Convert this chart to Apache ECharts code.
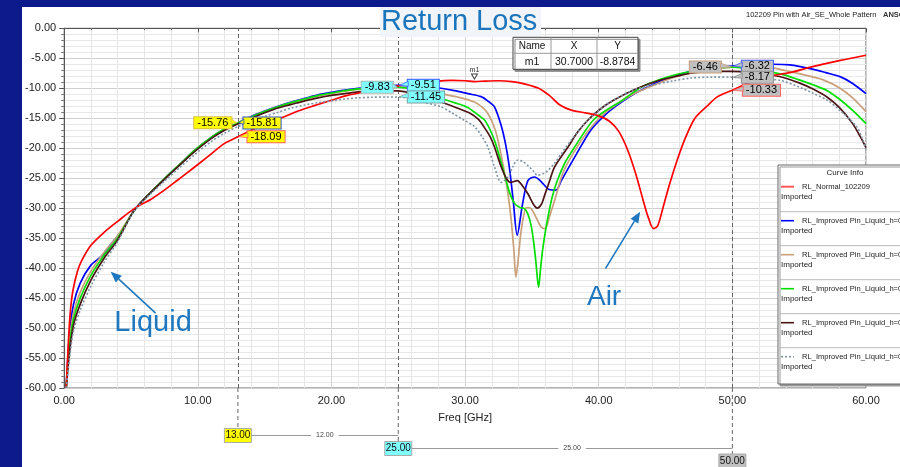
<!DOCTYPE html>
<html>
<head>
<meta charset="utf-8">
<script src="https://cdn.jsdelivr.net/npm/echarts@6/dist/echarts.min.js"></script>
<style>
html,body{margin:0;padding:0;background:#0d1a8c;width:900px;height:467px;overflow:hidden}
#main{position:absolute;left:22px;top:7px;width:878px;height:460px;background:#fff}
</style>
</head>
<body>
<div id="main"></div>
<script>
// curve data, [freq GHz, dB]
var rlNormal = [[0.15,-60],[0.3,-53],[0.45,-47.5],[0.65,-43.8],[1,-40.5],[1.3,-38.8],[2,-36.2],[3,-34],[4,-32.2],[5.3,-30],[6.5,-28.5],[7.5,-27],[8.5,-25.3],[9.5,-23.6],[10.7,-21.5],[12,-19.2],[13,-18.09],[14,-17],[15,-16],[16.2,-15],[17.5,-13.8],[18.7,-12.9],[20,-12],[21.2,-11.2],[22.5,-10.6],[23.7,-10.1],[25,-9.6],[26,-9.2],[27,-8.95],[28,-8.8],[29,-8.7],[30,-8.75],[30.7,-8.88],[31.5,-8.8],[32.5,-8.75],[33.5,-8.9],[34.5,-9.3],[35.5,-10.0],[36.3,-11.2],[37.1,-12.8],[38,-13.7],[39,-14.1],[40,-14.6],[40.8,-15.5],[41.5,-17.2],[42.2,-20.5],[42.8,-24.5],[43.3,-28.5],[43.7,-31.5],[44.1,-33.4],[44.4,-33],[44.8,-30],[45.3,-26],[45.9,-21.8],[46.5,-18.2],[47.2,-15],[48.1,-13.0],[48.9,-11.4],[50,-10.33],[51,-9.3],[52,-8.5],[53,-7.9],[54.3,-7.4],[56,-6.4],[58,-5.4],[60,-4.5]];
var rlBlue = [[0.15,-60],[0.4,-51],[0.7,-46],[1.2,-42.5],[2,-39.5],[2.8,-38],[3.5,-36],[4.3,-33.8],[5.2,-30.5],[6.2,-28],[7.5,-25.1],[8.7,-22.6],[9.8,-20.3],[11,-18.2],[12,-16.8],[13,-15.81],[14,-14.7],[15,-13.8],[16,-13],[17,-12.3],[18,-11.7],[19,-11.1],[20,-10.7],[21,-10.3],[22,-10],[23,-9.75],[24,-9.6],[25,-9.51],[26,-9.55],[27,-9.7],[28.2,-10.0],[29.2,-10.4],[30.2,-10.9],[31.2,-11.4],[31.8,-12.3],[32.2,-13.1],[32.7,-16.2],[33.0,-19],[33.3,-23],[33.6,-28.7],[33.9,-34.5],[34.3,-29.3],[34.7,-25.4],[35.2,-24.8],[35.7,-25.6],[36.3,-26.9],[36.8,-27],[37.2,-25.4],[38.2,-21.5],[39.4,-17],[40.3,-14.8],[41.2,-13.1],[42.6,-11.0],[43.2,-10.3],[44.4,-9.0],[45.6,-8.1],[47,-7.1],[48.5,-6.5],[50,-6.32],[51.5,-6.0],[53,-6.0],[54.3,-6.1],[56,-6.8],[57,-7.4],[58.1,-8.1],[59,-9.2],[60,-10.9]];
var rlTan = [[0.15,-60],[0.4,-52],[0.7,-47.5],[1.2,-44],[2,-40.5],[3,-37.3],[4,-34.6],[5.2,-30.5],[6.2,-28],[7.5,-25.1],[8.7,-22.6],[9.8,-20.3],[11,-18.2],[12,-16.8],[13,-15.76],[14,-14.8],[15,-13.9],[16,-13.1],[17,-12.4],[18,-11.8],[19,-11.3],[20,-10.9],[21,-10.5],[22,-10.2],[23,-10.0],[24,-9.9],[25,-9.85],[26,-10.0],[27,-10.4],[28.2,-10.9],[29.5,-11.5],[30.7,-12.3],[31.3,-13.2],[31.7,-14.2],[32.1,-16],[32.4,-18.1],[32.9,-23.5],[33.2,-27.5],[33.45,-32],[33.65,-37],[33.8,-41.5],[34,-38],[34.2,-33.7],[34.6,-29.9],[34.9,-30],[35.3,-31.5],[35.7,-33.2],[36,-33.4],[36.3,-31.5],[36.7,-28.7],[37.4,-23.7],[38.7,-18.7],[39.7,-15.8],[40.7,-13.7],[42.4,-11.2],[44,-9.6],[45.5,-8.3],[47,-7.4],[48.5,-6.8],[50,-6.46],[51.5,-6.3],[53,-6.6],[54.5,-7.3],[56,-8.1],[56.8,-8.6],[58,-9.9],[59,-11.6],[60,-13.9]];
var rlGreen = [[0.15,-60],[0.4,-53],[0.7,-48.5],[1.2,-45],[2,-41.2],[3,-37.8],[4,-35],[5.2,-30.5],[6.2,-28],[7.5,-25.1],[8.7,-22.6],[9.8,-20.3],[11,-18.2],[12,-16.8],[13,-15.8],[14,-14.8],[15,-13.9],[16,-13.1],[17,-12.4],[18,-11.8],[19,-11.2],[20,-10.8],[21,-10.4],[22,-10.1],[23,-9.95],[24,-9.85],[25,-9.83],[26,-10.1],[27,-10.8],[28.2,-11.7],[29.2,-12.4],[30.2,-13.2],[31,-14.5],[31.5,-15.4],[32.2,-18.7],[32.8,-23.2],[33.3,-27.2],[33.7,-29.2],[34.1,-29.9],[34.4,-30],[34.7,-31],[34.95,-33],[35.15,-36],[35.3,-39],[35.5,-43.2],[35.65,-40],[35.8,-37],[36,-34],[36.2,-31.5],[36.5,-28.3],[36.9,-25.4],[37.5,-22.3],[38.2,-19.8],[38.9,-17.4],[39.6,-15.3],[40.6,-13.6],[41.7,-12.1],[43.2,-9.8],[44.5,-8.6],[45.8,-7.7],[46.9,-7.2],[48.5,-6.7],[50,-6.5],[51.5,-6.8],[52.6,-7.2],[53.6,-7.6],[55,-8.6],[56,-9.4],[57.1,-10.4],[58,-11.8],[59,-13.7],[60,-15.9]];
var rlDark = [[0.15,-60],[0.4,-54],[0.7,-49.5],[1.2,-46],[2,-42],[3,-38.3],[4,-35.3],[5.2,-30.5],[6.2,-28],[7.5,-25.2],[8.7,-22.7],[9.8,-20.5],[11,-18.4],[12,-17],[13,-15.95],[14,-15],[15,-14.1],[16,-13.3],[17,-12.7],[18,-12.1],[19,-11.6],[20,-11.2],[21,-10.9],[22,-10.6],[23,-10.45],[24,-10.4],[25,-10.45],[26,-10.8],[27,-11.4],[28.2,-12.3],[29.3,-13.2],[30.4,-14.2],[31,-15.2],[31.4,-16.4],[31.9,-18.2],[32.2,-19.8],[32.7,-23.1],[33.1,-25.1],[33.4,-25.7],[33.9,-25.4],[34.3,-26.3],[34.7,-27.6],[35.1,-29.3],[35.4,-30],[35.7,-29.4],[35.9,-28.2],[36.3,-25.6],[36.7,-23.1],[37.7,-19.8],[38.4,-17.4],[39.2,-15.3],[40.1,-13.5],[41.1,-12],[42.9,-10],[44.5,-8.7],[46,-7.9],[46.9,-7.5],[48.5,-7.2],[50,-7.2],[51.5,-7.4],[52.6,-7.7],[53.8,-8.2],[55,-9.1],[56,-10.1],[57.1,-11.5],[58,-13.2],[59,-15.9],[59.6,-18.2],[60,-19.9]];
var rlDotted = [[0.15,-60],[0.4,-55],[0.7,-50.5],[1.2,-47],[2,-43],[3,-39],[4,-35.6],[5.2,-30.6],[6.2,-28.2],[7.5,-25.5],[8.7,-23.1],[9.8,-21],[11,-18.9],[12,-17.5],[13,-16.4],[14,-15.5],[15,-14.7],[16,-14],[17,-13.3],[18,-12.8],[19,-12.4],[20,-12.1],[21,-11.8],[22,-11.6],[23,-11.5],[24,-11.45],[25,-11.45],[26,-11.8],[27,-12.4],[28.2,-13.1],[29,-14.1],[29.9,-15.3],[30.7,-16.4],[31.3,-18.2],[31.7,-19.8],[32.2,-23.1],[32.7,-25.7],[33.2,-24.8],[33.6,-23],[33.9,-22],[34.3,-22.2],[34.7,-22.9],[35.1,-23.8],[35.4,-24.5],[35.8,-24.3],[36.2,-23.7],[36.7,-22.5],[37.2,-20.9],[38,-18.5],[38.7,-16.5],[39.7,-14.3],[40.7,-12.5],[42.6,-10.3],[44,-9.5],[45.5,-8.8],[46.9,-8.3],[48.5,-8.15],[50,-8.17],[51.5,-8.3],[52.6,-8.5],[53.6,-8.7],[55,-9.8],[56,-10.8],[57.1,-12],[58,-13.6],[59.3,-16.4],[59.7,-18.3],[60,-20.2]];

var curveNames = ['RL_Normal_102209', 'RL_Improved Pin_Liquid_h=0.1mm', 'RL_Improved Pin_Liquid_h=0.2mm',
  'RL_Improved Pin_Liquid_h=0.3mm', 'RL_Improved Pin_Liquid_h=0.4mm', 'RL_Improved Pin_Liquid_h=0.5mm'];
var curveData = [rlNormal, rlBlue, rlTan, rlGreen, rlDark, rlDotted];

// x markers and readouts
var markerFreqs = [13, 25, 50];
var readFreq   = [13, 13, 13, 25, 25, 25, 50, 50, 50, 50];
var readValue  = [-15.76, -15.81, -18.09, -9.83, -9.51, -11.45, -6.46, -6.32, -8.17, -10.33];
var readSeries = [2, 1, 0, 3, 1, 5, 2, 1, 5, 0];
var m1Freq = 30.7, m1Value = -8.8784;
var liquidArrow = [[6.84, -47.5], [3.48, -40.6]];
var airArrow = [[40.5, -40.1], [43.1, -30.6]];
var liquidPos = [6.65, -49.2], airPos = [40.4, -44.8];

// styles
var FONT = 'Arial, "Liberation Sans", sans-serif';
var curveColors = ['#ff0000', '#0000ff', '#c9a07a', '#00e000', '#4b1515', '#7d95a8'];
var markerFill = {13: '#ffff00', 25: '#80ffff', 50: '#c0c0c0'};
var readSide = ['left', 'right', 'right', 'left', 'right', 'right', 'left', 'right', 'right', 'right'];
var readGap = [6, 5, 9, 5, 9, 9, 11, 9, 9, 10];
var readBorder = ['#d8c040', '#3050c0', '#ff6060', '#a0b8b8', '#4060ff', '#80a0a0', '#c8a07a', '#4060ff', '#909090', '#ff6060'];
var noteColor = '#1f77bf';

var chart = echarts.init(document.getElementById('main'));

function readoutPoints(si) {
  var pts = [];
  for (var i = 0; i < readFreq.length; i++) {
    if (readSeries[i] !== si) continue;
    pts.push({
      coord: [readFreq[i], readValue[i]],
      symbol: 'rect', symbolSize: 1,
      itemStyle: {color: 'rgba(0,0,0,0)'},
      label: {
        show: true, position: readSide[i], distance: readGap[i],
        formatter: readValue[i].toFixed(2),
        backgroundColor: markerFill[readFreq[i]], borderColor: readBorder[i], borderWidth: 1,
        padding: [1, 3, 0, 3], fontSize: 11, lineHeight: 10, color: '#000', fontFamily: FONT
      }
    });
  }
  if (si === 0) {
    pts.push({
      coord: [m1Freq, m1Value], symbol: 'triangle', symbolRotate: 180, symbolSize: [6, 5],
      symbolOffset: [0, -5],
      itemStyle: {color: '#fff', borderColor: '#444', borderWidth: 1},
      label: {show: true, position: 'top', distance: 0, formatter: 'm1', fontSize: 7, color: '#333', fontFamily: FONT}
    });
  }
  return pts;
}

var series = curveData.map(function (d, i) {
  var s = {
    name: curveNames[i], type: 'line', data: d, showSymbol: false, smooth: 0.3,
    z: i === 0 ? 8 : 3 + i,
    lineStyle: {color: curveColors[i], width: i === 5 ? 1.6 : 1.7, type: i === 5 ? [2, 2] : 'solid'},
    itemStyle: {color: curveColors[i]},
    markPoint: {animation: false, silent: true, z: 20, data: readoutPoints(i)}
  };
  if (i === 0) {
    s.markLine = {
      silent: true, symbol: 'none', animation: false, label: {show: false}, z: 1,
      lineStyle: {color: '#666', type: [4, 3], width: 1},
      data: markerFreqs.map(function (f) { return {xAxis: f}; })
    };
  }
  return s;
});

chart.setOption({
  animation: false,
  textStyle: {fontFamily: FONT},
  grid: {left: 41.5, right: 34, top: 21.3, bottom: 79, show: true, borderColor: '#666', borderWidth: 1},
  xAxis: {
    type: 'value', min: 0, max: 60, interval: 10,
    name: 'Freq [GHz]', nameLocation: 'middle', nameGap: 24,
    nameTextStyle: {fontSize: 11, color: '#222', fontFamily: FONT},
    axisLine: {lineStyle: {color: '#555'}},
    axisTick: {length: 4, lineStyle: {color: '#555'}},
    minorTick: {show: true, splitNumber: 5, length: 2, lineStyle: {color: '#777'}},
    axisLabel: {fontSize: 11, color: '#222', margin: 7, formatter: function (v) { return v.toFixed(2); }},
    splitLine: {lineStyle: {color: '#d4d4d4'}},
    minorSplitLine: {show: true, lineStyle: {color: '#e6e6e6'}}
  },
  yAxis: {
    type: 'value', min: -60, max: 0, interval: 5,
    axisLine: {show: true, lineStyle: {color: '#555'}},
    axisTick: {show: true, length: 5, lineStyle: {color: '#555'}},
    minorTick: {show: true, splitNumber: 5, length: 3, lineStyle: {color: '#777'}},
    axisLabel: {fontSize: 11, color: '#222', margin: 8, formatter: function (v) { return v.toFixed(2); }},
    splitLine: {lineStyle: {color: '#cfcfcf'}},
    minorSplitLine: {show: true, lineStyle: {color: '#e8e8e8'}}
  },
  series: series
});

// overlays: title, annotations, marker table, curve info, x markers
function px(x, y) { return chart.convertToPixel({gridIndex: 0}, [x, y]); }

function arrow(a) {
  var p0 = px(a[0][0], a[0][1]), p1 = px(a[1][0], a[1][1]);
  var ang = Math.atan2(p1[1] - p0[1], p1[0] - p0[0]);
  var L = 11, W = 4.5;
  var bx = p1[0] - L * Math.cos(ang), by = p1[1] - L * Math.sin(ang);
  var nx = -Math.sin(ang) * W, ny = Math.cos(ang) * W;
  return [
    {type: 'line', z: 50, shape: {x1: p0[0], y1: p0[1], x2: bx, y2: by}, style: {stroke: noteColor, lineWidth: 1.6}},
    {type: 'polygon', z: 50, shape: {points: [[p1[0], p1[1]], [bx + nx, by + ny], [bx - nx, by - ny]]}, style: {fill: noteColor}}
  ];
}

var g = [];
// title
g.push({type: 'rect', z: 40, shape: {x: 358, y: 0, width: 161, height: 30}, style: {fill: '#f1f4f8'}});
g.push({type: 'text', z: 41, x: 359, y: 14.5, style: {text: 'Return Loss', font: '29px ' + FONT, fill: '#1b75bc', verticalAlign: 'middle'}});
g.push({type: 'text', z: 41, x: 724, y: 8, style: {text: '102209 Pin with Air_SE_Whole Pattern', font: '7.5px ' + FONT, fill: '#222', verticalAlign: 'middle'}});
g.push({type: 'text', z: 41, x: 861, y: 8, style: {text: 'ANSOFT', font: 'bold 7.5px ' + FONT, fill: '#333', verticalAlign: 'middle'}});

// pointer tails of the readout boxes
readFreq.forEach(function (f, i) {
  var p = px(f, readValue[i]);
  var dir = readSide[i] === 'left' ? -1 : 1;
  var ex = p[0] + dir * (readGap[i] + 1);
  g.push({type: 'polygon', z: 45, shape: {points: [[p[0] + dir, p[1]], [ex, p[1] - 4], [ex, p[1] + 1]]},
    style: {fill: markerFill[f], stroke: readBorder[i], lineWidth: 0.8}});
});

// annotations
var lp = px(liquidPos[0], liquidPos[1]), ap = px(airPos[0], airPos[1]);
g.push({type: 'text', z: 50, x: lp[0], y: lp[1], style: {text: 'Liquid', font: '29px ' + FONT, fill: noteColor, align: 'center', verticalAlign: 'middle'}});
g.push({type: 'text', z: 50, x: ap[0], y: ap[1], style: {text: 'Air', font: '28px ' + FONT, fill: noteColor, align: 'center', verticalAlign: 'middle'}});
g = g.concat(arrow(liquidArrow), arrow(airArrow));

// marker table
var tx = 491, ty = 30.3, cw = [38, 46, 41], rh = 16;
g.push({type: 'rect', z: 60, shape: {x: tx, y: ty, width: 125, height: 32}, style: {fill: '#fff', stroke: '#444', lineWidth: 1, shadowColor: '#888', shadowOffsetX: 2, shadowOffsetY: 2}});
g.push({type: 'line', z: 61, shape: {x1: tx + cw[0], y1: ty, x2: tx + cw[0], y2: ty + 32}, style: {stroke: '#999'}});
g.push({type: 'line', z: 61, shape: {x1: tx + cw[0] + cw[1], y1: ty, x2: tx + cw[0] + cw[1], y2: ty + 32}, style: {stroke: '#999'}});
g.push({type: 'line', z: 61, shape: {x1: tx, y1: ty + rh, x2: tx + 125, y2: ty + rh}, style: {stroke: '#999'}});
var cells = [['Name', 'X', 'Y'], ['m1', m1Freq.toFixed(4), m1Value.toFixed(4)]];
cells.forEach(function (row, r) {
  var cx = tx;
  row.forEach(function (t, c) {
    g.push({type: 'text', z: 62, x: cx + cw[c] / 2, y: ty + rh * r + 8.5,
      style: {text: t, font: (r ? '10.5px ' : '10px ') + FONT, fill: '#111', align: 'center', verticalAlign: 'middle'}});
    cx += cw[c];
  });
});

// curve info box
var lx = 756, ly = 158;
g.push({type: 'rect', z: 70, shape: {x: lx, y: ly, width: 160, height: 219}, style: {fill: '#fff', stroke: '#666', lineWidth: 1, shadowColor: '#999', shadowOffsetX: 2, shadowOffsetY: 2}});
g.push({type: 'text', z: 71, x: lx + 67, y: ly + 7.5, style: {text: 'Curve Info', font: '8px ' + FONT, fill: '#222', align: 'center', verticalAlign: 'middle'}});
curveNames.forEach(function (n, i) {
  var yy = ly + 21.7 + i * 34;
  g.push({type: 'line', z: 71, shape: {x1: lx + 3, y1: yy, x2: lx + 16, y2: yy},
    style: {stroke: curveColors[i], lineWidth: i === 0 ? 2 : 1.6, lineDash: i === 5 ? [2, 2] : null, opacity: i === 0 ? 0.65 : 1}});
  g.push({type: 'text', z: 71, x: lx + 24, y: yy, style: {text: n, font: '7.6px ' + FONT, fill: '#222', verticalAlign: 'middle'}});
  g.push({type: 'text', z: 71, x: lx + 3, y: yy + 10.5, style: {text: 'Imported', font: '8px ' + FONT, fill: '#222', verticalAlign: 'middle'}});
  if (i < curveNames.length - 1) {
    g.push({type: 'line', z: 71, shape: {x1: lx, y1: yy + 25, x2: lx + 160, y2: yy + 25}, style: {stroke: '#bbb'}});
  }
});

// x markers below the axis
var boxY = [428.5, 441.5, 454];
var axisY = px(0, -60)[1];
markerFreqs.forEach(function (f, i) {
  var x = px(f, -60)[0];
  g.push({type: 'line', z: 30, shape: {x1: x, y1: axisY, x2: x, y2: boxY[i]}, style: {stroke: '#666', lineDash: [4, 3]}});
  g.push({type: 'rect', z: 31, shape: {x: x - 13.5, y: boxY[i] - 7, width: 27, height: 14}, style: {fill: markerFill[f], stroke: '#aaa'}});
  g.push({type: 'text', z: 32, x: x, y: boxY[i], style: {text: f.toFixed(2), font: '10px ' + FONT, fill: '#111', align: 'center', verticalAlign: 'middle'}});
  if (i < markerFreqs.length - 1) {
    var x2 = px(markerFreqs[i + 1], -60)[0];
    var mid = (x + 13.5 + x2) / 2;
    g.push({type: 'line', z: 30, shape: {x1: x + 13.5, y1: boxY[i], x2: x2, y2: boxY[i]}, style: {stroke: '#999'}});
    g.push({type: 'text', z: 31, x: mid, y: boxY[i], style: {text: (markerFreqs[i + 1] - f).toFixed(2), font: '7px ' + FONT, fill: '#444',
      align: 'center', verticalAlign: 'middle', backgroundColor: '#fff', padding: [0, 5]}});
  }
});

chart.setOption({graphic: {elements: g}});
</script>
</body>
</html>
